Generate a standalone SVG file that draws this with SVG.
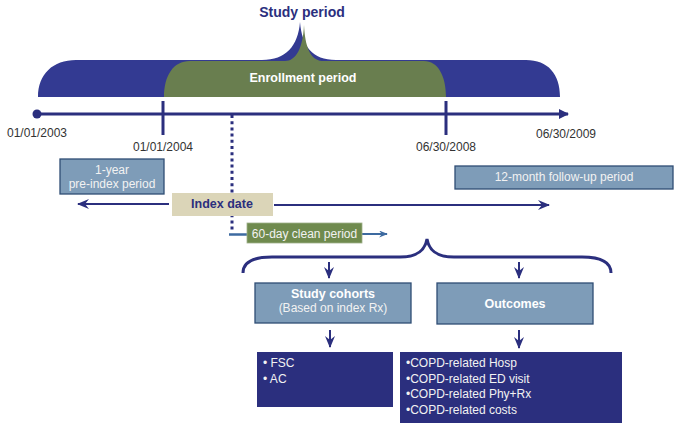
<svg xmlns="http://www.w3.org/2000/svg" width="680" height="431" viewBox="0 0 680 431">
<style>
text{font-family:"Liberation Sans",Arial,sans-serif}
.date{font-size:12px;fill:#333}
.steel{fill:#7e9cb8;stroke:#2f4d74;stroke-width:1.3}
.dark{fill:#2b2f7e}
.wt{fill:#f2f2f2;font-size:12px}
.wb{fill:#ffffff;font-size:12.5px;font-weight:bold}
.nv{stroke:#2b2f7e;fill:none}
</style>
<defs>
<marker id="tri" viewBox="0 0 10 10" refX="9" refY="5" markerWidth="10" markerHeight="10" markerUnits="userSpaceOnUse" orient="auto">
<path d="M0,0 L10,5 L0,10 Z" fill="#2b2f7e"/>
</marker>
<marker id="stl" viewBox="0 0 12 10" refX="11" refY="5" markerWidth="12" markerHeight="10" markerUnits="userSpaceOnUse" orient="auto">
<path d="M0,0 L12,5 L0,10 L4,5 Z" fill="#2b2f7e"/>
</marker>
<marker id="stb" viewBox="0 0 10 8" refX="9" refY="4" markerWidth="9" markerHeight="7" markerUnits="userSpaceOnUse" orient="auto">
<path d="M0,0 L10,4 L0,8 L3,4 Z" fill="#3d6aa0"/>
</marker>
</defs>

<g id="study-period">
<path d="M38,97 C38,74 53,60 76,60 L262,60 C286,60 298,46 300,22 C302,46 312,60 336,60 L526,60 C548,60 560,74 560,97 Z" fill="#333a92"/>
<text x="302" y="17" text-anchor="middle" font-size="14" font-weight="bold" fill="#2b2f7e">Study period</text>
</g>
<g id="enrollment-period">
<path d="M164,97 C164,76 173,61 190,61 L285,61 C296,61 303,48 304,25 C305,46 310,60 322,61 L424,61 C438,61 446,76 446,97 Z" fill="#697e4f"/>
<text x="303" y="82" text-anchor="middle" font-size="12.5" font-weight="bold" fill="#ffffff">Enrollment period</text>
</g>

<g id="timeline">
<circle cx="37" cy="114" r="4.5" fill="#2b2f7e"/>
<line x1="37" y1="114" x2="568" y2="114" class="nv" stroke-width="3" marker-end="url(#tri)"/>
<line x1="163" y1="101" x2="163" y2="135" class="nv" stroke-width="3"/>
<line x1="446" y1="101" x2="446" y2="135" class="nv" stroke-width="3"/>
<text class="date" x="37" y="137" text-anchor="middle">01/01/2003</text>
<text class="date" x="163" y="151" text-anchor="middle">01/01/2004</text>
<text class="date" x="446" y="151" text-anchor="middle">06/30/2008</text>
<text class="date" x="566" y="138" text-anchor="middle">06/30/2009</text>
</g>

<g id="connectors">
<line x1="232" y1="115" x2="232" y2="232" class="nv" stroke-width="3" stroke-dasharray="3,3.2"/>
<line x1="229" y1="234.5" x2="247" y2="234.5" stroke="#3d6aa0" stroke-width="2.5"/>
<line x1="362" y1="234" x2="387" y2="234" stroke="#3d6aa0" stroke-width="2" marker-end="url(#stb)"/>
<line x1="169" y1="204" x2="78" y2="204" class="nv" stroke-width="2" marker-end="url(#stl)"/>
<line x1="274" y1="205" x2="549" y2="205" class="nv" stroke-width="2" marker-end="url(#stl)"/>
<path d="M243,273 C243,263 252,257 272,257 L400,257 C418,257 425,250 427,239 C429,250 436,257 454,257 L582,257 C602,257 611,263 611,273" class="nv" stroke-width="3"/>
<line x1="329" y1="262" x2="329" y2="278" class="nv" stroke-width="2" marker-end="url(#stl)"/>
<line x1="519" y1="262" x2="519" y2="278" class="nv" stroke-width="2" marker-end="url(#stl)"/>
<line x1="330" y1="330" x2="330" y2="347" class="nv" stroke-width="2" marker-end="url(#stl)"/>
<line x1="519" y1="330" x2="519" y2="348" class="nv" stroke-width="2" marker-end="url(#stl)"/>
</g>

<g id="pre-index">
<rect class="steel" x="60" y="159" width="104" height="35"/>
<text class="wt" x="112" y="174" text-anchor="middle">1-year</text>
<text class="wt" x="112" y="188" text-anchor="middle">pre-index period</text>
</g>
<g id="follow-up">
<rect class="steel" x="455" y="166" width="218" height="23"/>
<text class="wt" x="564" y="181" text-anchor="middle">12-month follow-up period</text>
</g>
<g id="index-date">
<rect x="172" y="193" width="101" height="23" fill="#dbd5b8"/>
<text x="222" y="208" text-anchor="middle" font-size="12.5" font-weight="bold" fill="#2b2f7e">Index date</text>
</g>
<g id="clean-period">
<rect x="247" y="223" width="115" height="20" fill="#6f8a4e" stroke="#9fb08a" stroke-width="0.8"/>
<text class="wt" x="304.5" y="238" text-anchor="middle">60-day clean period</text>
</g>
<g id="study-cohorts">
<rect class="steel" x="255" y="283" width="156" height="40"/>
<text class="wb" x="333" y="298" text-anchor="middle">Study cohorts</text>
<text class="wt" x="333" y="312" text-anchor="middle">(Based on index Rx)</text>
</g>
<g id="outcomes">
<rect class="steel" x="437" y="283" width="156" height="41"/>
<text class="wb" x="515" y="308" text-anchor="middle">Outcomes</text>
</g>
<g id="cohort-list">
<rect class="dark" x="257" y="352" width="136" height="55"/>
<text class="wt" x="263" y="367">• FSC</text>
<text class="wt" x="263" y="383">• AC</text>
</g>
<g id="outcome-list">
<rect class="dark" x="400" y="352" width="222" height="71"/>
<text class="wt" x="406" y="367">•COPD-related Hosp</text>
<text class="wt" x="406" y="383">•COPD-related ED visit</text>
<text class="wt" x="406" y="398">•COPD-related Phy+Rx</text>
<text class="wt" x="406" y="414">•COPD-related costs</text>
</g>
</svg>
